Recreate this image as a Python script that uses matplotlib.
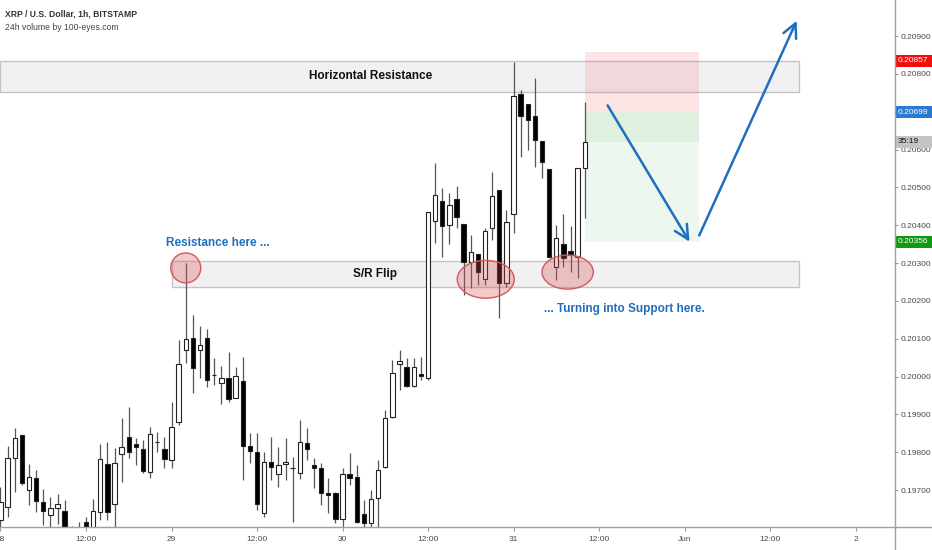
import matplotlib
matplotlib.use("Agg")
import matplotlib.pyplot as plt
from matplotlib.patches import Rectangle, Ellipse
from matplotlib.lines import Line2D
from matplotlib.transforms import blended_transform_factory
import numpy as np

# XRP/USD 1h candles, hour 0 = 28 May 00:00
opens = [0.19621, 0.19655, 0.19784, 0.19845, 0.19700, 0.19732, 0.19668, 0.19634, 0.19652, 0.19644,
         0.19590, 0.19585, 0.19615, 0.19599, 0.19642, 0.19769, 0.19663, 0.19795, 0.19840, 0.19821,
         0.19808, 0.19747, 0.19827, 0.19808, 0.19779, 0.19880, 0.20070, 0.20102, 0.20070, 0.20102,
         0.20004, 0.19983, 0.19996, 0.19943, 0.19988, 0.19816, 0.19800, 0.19639, 0.19774, 0.19742,
         0.19769, 0.19758, 0.19745, 0.19824, 0.19766, 0.19758, 0.19692, 0.19692, 0.19623, 0.19742,
         0.19734, 0.19636, 0.19613, 0.19679, 0.19761, 0.19893, 0.20033, 0.20025, 0.19975, 0.20006,
         0.19996, 0.20411, 0.20464, 0.20400, 0.20469, 0.20403, 0.20302, 0.20324, 0.20257, 0.20392,
         0.20493, 0.20247, 0.20429, 0.20746, 0.20720, 0.20688, 0.20622, 0.20548, 0.20289, 0.20350,
         0.20332, 0.20316, 0.20551]
highs = [0.19708, 0.19816, 0.19864, 0.19845, 0.19769, 0.19753, 0.19702, 0.19681, 0.19689, 0.19673,
         0.19605, 0.19615, 0.19628, 0.19676, 0.19821, 0.19827, 0.19811, 0.19890, 0.19919, 0.19837,
         0.19832, 0.19866, 0.19853, 0.19840, 0.19932, 0.20096, 0.20300, 0.20162, 0.20133, 0.20125,
         0.20049, 0.20028, 0.20065, 0.20025, 0.20051, 0.19851, 0.19851, 0.19800, 0.19840, 0.19813,
         0.19837, 0.19787, 0.19885, 0.19864, 0.19784, 0.19771, 0.19732, 0.19695, 0.19758, 0.19798,
         0.19766, 0.19673, 0.19700, 0.19779, 0.19911, 0.20043, 0.20070, 0.20049, 0.20049, 0.20051,
         0.20435, 0.20564, 0.20498, 0.20485, 0.20503, 0.20403, 0.20374, 0.20324, 0.20392, 0.20540,
         0.20493, 0.20440, 0.20831, 0.20757, 0.20720, 0.20789, 0.20622, 0.20548, 0.20400, 0.20429,
         0.20397, 0.20551, 0.20725]
lows = [0.19590, 0.19628, 0.19695, 0.19713, 0.19660, 0.19642, 0.19607, 0.19599, 0.19610, 0.19585,
        0.19570, 0.19570, 0.19580, 0.19590, 0.19621, 0.19621, 0.19599, 0.19721, 0.19784, 0.19766,
        0.19745, 0.19732, 0.19800, 0.19758, 0.19758, 0.19872, 0.20035, 0.19956, 0.19996, 0.19972,
        0.19977, 0.19927, 0.19932, 0.19943, 0.19726, 0.19771, 0.19647, 0.19628, 0.19726, 0.19708,
        0.19726, 0.19615, 0.19729, 0.19779, 0.19705, 0.19660, 0.19639, 0.19613, 0.19599, 0.19713,
        0.19613, 0.19602, 0.19595, 0.19595, 0.19758, 0.19890, 0.19964, 0.19972, 0.19972, 0.19991,
        0.19991, 0.20353, 0.20316, 0.20350, 0.20392, 0.20215, 0.20234, 0.20242, 0.20242, 0.20361,
        0.20154, 0.20236, 0.20379, 0.20580, 0.20599, 0.20554, 0.20525, 0.20316, 0.20255, 0.20289,
        0.20276, 0.20260, 0.20419]
closes = [0.19668, 0.19784, 0.19837, 0.19718, 0.19734, 0.19671, 0.19644, 0.19652, 0.19663, 0.19595,
          0.19580, 0.19595, 0.19595, 0.19644, 0.19782, 0.19642, 0.19771, 0.19813, 0.19800, 0.19813,
          0.19750, 0.19848, 0.19827, 0.19782, 0.19866, 0.20033, 0.20099, 0.20022, 0.20083, 0.19991,
          0.20004, 0.19996, 0.19940, 0.20001, 0.19816, 0.19803, 0.19663, 0.19774, 0.19761, 0.19766,
          0.19774, 0.19758, 0.19827, 0.19808, 0.19758, 0.19692, 0.19687, 0.19623, 0.19742, 0.19732,
          0.19615, 0.19613, 0.19676, 0.19753, 0.19890, 0.20009, 0.20041, 0.19975, 0.20025, 0.20001,
          0.20435, 0.20480, 0.20397, 0.20453, 0.20421, 0.20302, 0.20329, 0.20276, 0.20384, 0.20477,
          0.20247, 0.20408, 0.20741, 0.20688, 0.20678, 0.20625, 0.20567, 0.20316, 0.20366, 0.20313,
          0.20321, 0.20551, 0.20620]

tick_hours = [0, 12, 24, 36, 48, 60, 72, 84, 96, 108, 120]
tick_labels = ["28", "12:00", "29", "12:00", "30", "12:00", "31", "12:00", "Jun", "12:00", "2"]

resistance = (0.20752, 0.20834)
sr_flip = (0.20236, 0.20305)
entry = 0.20699
stop = 0.20857
target = 0.20356

font = ["Liberation Sans", "DejaVu Sans"]
blue = "#1f6fc0"

fig = plt.figure(figsize=(9.32, 5.5), dpi=100)
ax = fig.add_axes([0, 23 / 550, 894 / 932, 527 / 550])
ax.set_xlim(-0.07, 125.4)
ax.set_ylim(0.196022, 0.209952)

hours = np.arange(len(opens))
o = np.array(opens); c = np.array(closes)
up = c >= o

# candles
ax.vlines(hours, lows, highs, color="#555555", lw=0.9, zorder=3)
body_h = np.maximum(np.abs(c - o), 0.00001)
ax.bar(hours, body_h, bottom=np.minimum(o, c), width=0.62,
       color=np.where(up, "white", "black"), edgecolor="#222222", lw=0.8, zorder=4)

# horizontal zones
ax.add_patch(Rectangle((-0.07, resistance[0]), 112 + 0.07, resistance[1] - resistance[0],
                       fc="#f1f1f4", ec="#c4c4c4", lw=1, zorder=1))
ax.add_patch(Rectangle((24, sr_flip[0]), 112 - 24, sr_flip[1] - sr_flip[0],
                       fc="#f1f1f4", ec="#c4c4c4", lw=1, zorder=1))
ax.text(51.9, sum(resistance) / 2, "Horizontal Resistance", ha="center", va="center",
        fontsize=8.5, fontweight="bold", color="#111111", family=font, zorder=6)
ax.text(52.5, sum(sr_flip) / 2, "S/R Flip", ha="center", va="center",
        fontsize=8.5, fontweight="bold", color="#111111", family=font, zorder=6)

# position tool
ax.add_patch(Rectangle((82, entry), 16, stop - entry, fc="#f23645", alpha=0.13, ec="none", zorder=2))
ax.add_patch(Rectangle((82, target), 16, entry - target, fc="#4caf50", alpha=0.09, ec="none", zorder=2))
ax.add_patch(Rectangle((82, closes[-1]), 16, entry - closes[-1], fc="#4caf50", alpha=0.09, ec="none", zorder=2))

# highlight ellipses
for cx, cy, w, h in [(26.0, 0.20287, 4.2, 0.00079), (68.1, 0.20257, 8.0, 0.00100), (79.6, 0.20276, 7.2, 0.00090)]:
    ax.add_patch(Ellipse((cx, cy), w, h, fc=(0.86, 0.3, 0.3, 0.3), ec="#cf5b5b", lw=1, zorder=5))

ax.text(23.2, 0.20352, "Resistance here ...", ha="left", va="center", fontsize=8.5,
        fontweight="bold", color=blue, family=font, zorder=6)
ax.text(76.3, 0.20178, "... Turning into Support here.", ha="left", va="center", fontsize=8.5,
        fontweight="bold", color=blue, family=font, zorder=6)

# projected path
arrow = dict(arrowstyle="->,head_length=0.5,head_width=0.25", color=blue, lw=1.8, mutation_scale=20)
ax.annotate("", xy=(96.9, 0.20350), xytext=(85.0, 0.20723), arrowprops=arrow, zorder=6)
ax.annotate("", xy=(111.9, 0.20947), xytext=(97.9, 0.20366), arrowprops=arrow, zorder=6)

# axes styling
for s in ax.spines.values():
    s.set_visible(False)
ax.yaxis.tick_right()
ax.set_yticks(np.arange(0.197, 0.2095, 0.001))
ax.yaxis.set_major_formatter(matplotlib.ticker.FormatStrFormatter("%.5f"))
ax.set_xticks(tick_hours)
ax.set_xticklabels(tick_labels)
ax.tick_params(axis="both", colors="#9a9a9a", labelcolor="#4a4a4a", labelsize=6, length=3)
ax.tick_params(axis="y", pad=2)
for lab in ax.get_xticklabels() + ax.get_yticklabels():
    lab.set_family(font)

fig.add_artist(Line2D([894.5 / 932] * 2, [0, 1], color="#a0a0a0", lw=1))
fig.add_artist(Line2D([0, 1], [23 / 550] * 2, color="#a0a0a0", lw=1))

# price labels on the scale
tag_tr = blended_transform_factory(ax.transAxes, ax.transData)
tag_h = 12 / 37833


def price_tag(y, text, bg, fg="white"):
    ax.add_patch(Rectangle((1.0006, y - tag_h / 2), 40 / 894, tag_h, transform=tag_tr,
                           fc=bg, ec="none", clip_on=False, zorder=10))
    ax.text(1 + 4 / 894, y, text, transform=tag_tr, ha="left", va="center", fontsize=6,
            color=fg, family=font, clip_on=False, zorder=11)


price_tag(0.20834, f"{stop:.5f}", "#f00f0f")
price_tag(entry, f"{entry:.5f}", "#2a7ad0")
price_tag(closes[-1], "35:19", "#c4c4c4", fg="#111111")
price_tag(target, f"{target:.5f}", "#0f9a12")

fig.text(5 / 932, 1 - 14 / 550, "XRP / U.S. Dollar, 1h, BITSTAMP", fontsize=6.2, fontweight="bold",
         color="#333333", family=font, va="center")
fig.text(5 / 932, 1 - 27 / 550, "24h volume by 100-eyes.com", fontsize=6.2, color="#444444",
         family=font, va="center")

fig.savefig("out.png", dpi=100, facecolor="white")
